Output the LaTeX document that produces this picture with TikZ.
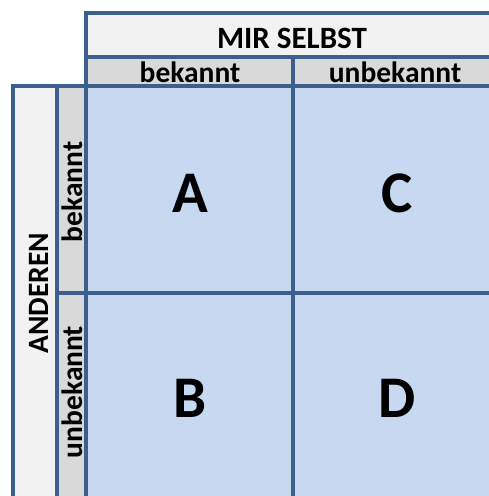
\documentclass[tikz,border=0pt]{standalone}
\usepackage{fontspec}
\setmainfont{Carlito}
\definecolor{bordc}{HTML}{3C5F8E}
\definecolor{cellc}{HTML}{C6D9F1}
\definecolor{headc}{HTML}{F2F2F2}
\definecolor{subc}{HTML}{D9D9D9}
\tikzset{
  grid line/.style={draw=bordc, line width=3.6pt},
  headtxt/.style={font=\bfseries\fontsize{29.5}{31}\selectfont, inner sep=0pt, anchor=base},
  toptxt/.style={font=\bfseries\fontsize{31}{33}\selectfont, inner sep=0pt, anchor=base},
  bigtxt/.style={font=\bfseries\fontsize{59}{62}\selectfont, inner sep=0pt, anchor=base},
}
\begin{document}
\begin{tikzpicture}[x=1pt,y=-1pt]
\useasboundingbox (0,0) rectangle (489,496);
\begin{scope}
\clip (0,0) rectangle (489,496);
% fills
\fill[headc] (86,13) rectangle (499,57);
\fill[subc] (86,57) rectangle (499,86);
\fill[headc] (13,86) rectangle (57,498);
\fill[subc] (57,86) rectangle (86,498);
\fill[cellc] (86,86) rectangle (499,498);
% coordinates
\coordinate (hTL) at (86,13);
\coordinate (hBR) at (499,86);
\coordinate (hL) at (86,57);
\coordinate (hR) at (499,57);
\coordinate (vT) at (293,57);
\coordinate (vB) at (293,498);
\coordinate (lTL) at (13,86);
\coordinate (lBR) at (86,498);
\coordinate (lT) at (57,86);
\coordinate (lB) at (57,498);
\coordinate (mL) at (57,293);
\coordinate (mR) at (499,293);
\coordinate (gTL) at (86,86);
\coordinate (gBR) at (499,498);
% lines
\draw[grid line] (hTL) rectangle (hBR);
\draw[grid line] (hL) -- (hR);
\draw[grid line] (vT) -- (vB);
\draw[grid line] (lTL) rectangle (lBR);
\draw[grid line] (lT) -- (lB);
\draw[grid line] (mL) -- (mR);
\draw[grid line] (gTL) rectangle (gBR);
\end{scope}
% texts
\node[toptxt] (mir) at (292,48) {MIR SELBST};
\node[headtxt] (bek1) at (190,82) {bekannt};
\node[headtxt] (unb1) at (395,82) {unbekannt};
\node[headtxt, rotate=90] (and) at (48,293) {ANDEREN};
\node[headtxt, rotate=90] (bek2) at (82,192) {bekannt};
\node[headtxt, rotate=90] (unb2) at (82,392) {unbekannt};
\node[bigtxt] (A) at (190,212) {A};
\node[bigtxt] (C) at (397,212) {C};
\node[bigtxt] (B) at (190,417) {B};
\node[bigtxt] (D) at (397,417) {D};
\end{tikzpicture}
\end{document}
